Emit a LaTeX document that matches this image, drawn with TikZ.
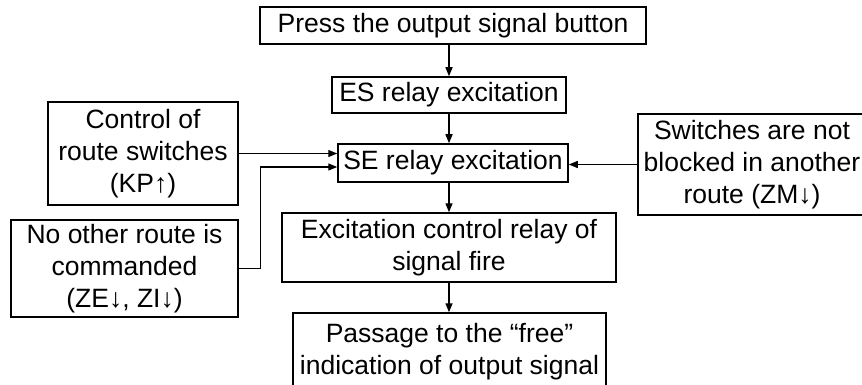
\documentclass[tikz,border=0pt]{standalone}
\usepackage{fontspec}
\setmainfont{Liberation Sans}
\usetikzlibrary{arrows.meta}

\begin{document}
\begin{tikzpicture}[x=1pt,y=-1pt,
		blok/.style={draw,line width=1.5pt,inner sep=0pt,align=center,font=\fontsize{26.5}{32}\selectfont},
		arr/.style={line width=1.4pt,-{Triangle[length=9pt,width=7pt]}}]
				\clip (0,0) rectangle (862,385);
				\node[blok,minimum width=386pt,minimum height=37pt] (press) at (453,25.5) {Press the output signal button};
				\node[blok,minimum width=234pt,minimum height=36pt] (es) at (449,95) {ES relay excitation};
				\node[blok,minimum width=230pt,minimum height=38pt] (se) at (453,163) {SE relay excitation};
				\node[blok,minimum width=190pt,minimum height=103pt] (kp) at (143,153.5) {Control of\\route switches\\(KP↑)};
				\node[blok,minimum width=227pt,minimum height=97pt] (ze) at (124.5,268.5) {No other route is\\commanded\\(ZE↓, ZI↓)};
				\node[blok,minimum width=228pt,minimum height=101pt] (zm) at (752,164.5) {Switches are not\\blocked in another\\route (ZM↓)};
				\node[blok,minimum width=334pt,minimum height=69pt] (exc) at (449,247.5) {Excitation control relay of\\signal fire};
				\node[blok,minimum width=313pt,minimum height=78pt] (pass) at (449.5,352) {Passage to the “free”\\indication of output signal};
				\draw[arr] (press.south -| es) -- (es);
				\draw[arr] (es.south -| es) -- (se.north -| es);
				\draw[arr] (se.south -| es) -- (exc.north -| es);
				\draw[arr] (exc.south -| es) -- (pass.north -| es);
				\draw[arr] (kp.east) -- (kp.east -| se.west);
				\draw[arr] (ze.east) -- ++(22,0) |- ([yshift=-4pt]se.west);
				\draw[arr] (zm.west) -- (zm.west -| se.east);
			\end{tikzpicture}
\end{document}
